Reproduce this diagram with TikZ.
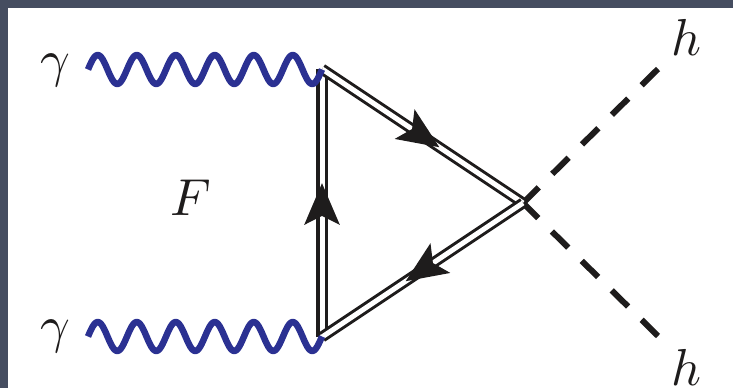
\documentclass[tikz,border=0pt]{standalone}
\usepackage{graphicx}
\usetikzlibrary{arrows.meta,decorations.markings}
\definecolor{slatebg}{RGB}{69,77,96}
\definecolor{photonblue}{RGB}{43,49,146}
\definecolor{inkblack}{RGB}{30,28,28}
\newcommand{\biglabel}[1]{\scalebox{5.2}{$#1$}}
\tikzset{
  lbl/.style={anchor=base,inner sep=0pt,text=inkblack},
  photon/.style={draw=photonblue,line width=6.5pt,line join=round},
  fermion/.style={draw=inkblack,double=white,line width=#1,double distance=5pt},
  farrow/.style={postaction={decorate,decoration={markings,mark=at position #1 with {\arrow{Stealth[length=41pt,width=34pt,inset=8pt,fill=inkblack]}}}}},
  scalar/.style={draw=inkblack,line width=6pt,dash pattern=on 23pt off 19pt},
}
\begin{document}
\begin{tikzpicture}[x=1pt,y=-1pt]
\useasboundingbox (0,0) rectangle (733,388);
\fill[slatebg] (0,0) rectangle (733,388);
\fill[white] (8,8) rectangle (733,388);
\coordinate (va) at (322,69);
\coordinate (vb) at (322,337);
\coordinate (vc) at (523,203);
\coordinate (pa) at (88,69.5);
\coordinate (pb) at (88,336.5);
\coordinate (ha) at (658,69);
\coordinate (hb) at (658,336);
\node[lbl] (g1) at (55,76) {\biglabel{\gamma}};
\node[lbl] (g2) at (55,342) {\biglabel{\gamma}};
\node[lbl] (f) at (191,215) {\biglabel{F}};
\node[lbl] (h1) at (686,55) {\biglabel{h}};
\node[lbl] (h2) at (686,385) {\biglabel{h}};
\path[scalar] (ha) -- (vc);
\path[scalar] (hb) -- (vc);
\path[fermion=3.6pt,farrow=0.575] (vb) -- (va);
\path[fermion=3pt,farrow=0.585] (va) -- (vc);
\path[fermion=3pt,farrow=0.585] (vc) -- (vb);
\path[photon,shift={(pa)}] plot[domain=0:234,samples=145] (\x,{-14.5*sin(\x*9.23077)});
\path[photon,shift={(pb)}] plot[domain=0:234,samples=145] (\x,{-14.5*sin(\x*9.23077)});
\end{tikzpicture}
\end{document}
